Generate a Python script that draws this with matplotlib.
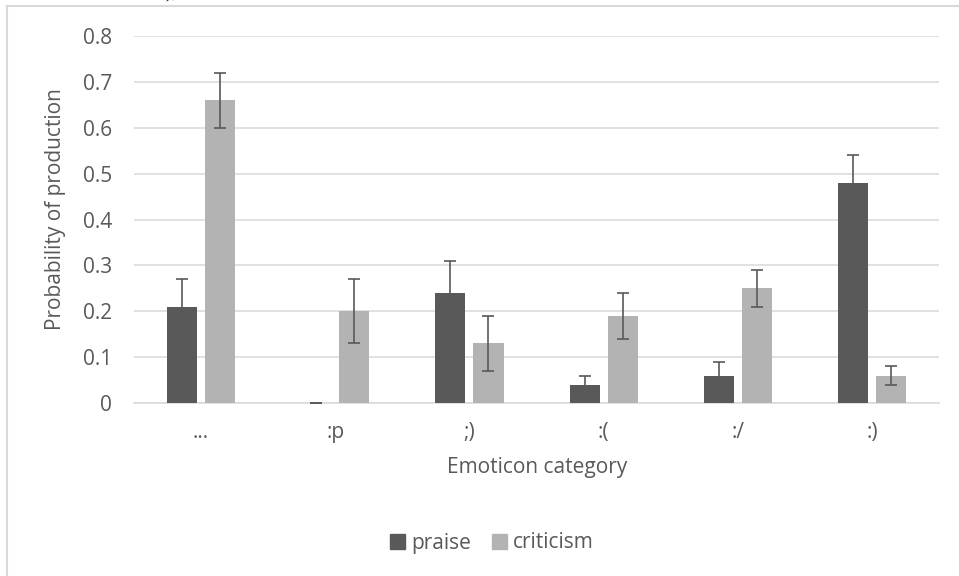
import numpy as np
import matplotlib
matplotlib.use('Agg')
import matplotlib.pyplot as plt
from matplotlib.lines import Line2D
from matplotlib.patches import Patch

plt.rcParams['font.family'] = ['Open Sans', 'DejaVu Sans']

# Data
categories = ['...', ':p', ';)', ':(', ':/', ':)']
praise = [0.21, 0.0, 0.24, 0.04, 0.06, 0.48]
praise_err = [0.06, 0.0, 0.07, 0.02, 0.03, 0.06]
criticism = [0.66, 0.20, 0.13, 0.19, 0.25, 0.06]
criticism_err = [0.06, 0.07, 0.06, 0.05, 0.04, 0.02]

dark = '#595959'
light = '#b3b3b3'
grid = '#d9d9d9'
txt = '#595959'

fig = plt.figure(figsize=(9.59, 5.76), dpi=100)
ax = fig.add_axes([0.1397, 0.3003, 0.8395, 0.6372])

x = np.arange(len(categories))
w = 0.224
off = 0.142
ax.bar(x - off, praise, w, color=dark, zorder=3)
ax.bar(x + off, criticism, w, color=light, zorder=3)
ax.errorbar(x - off, praise, yerr=praise_err, fmt='none', ecolor=dark,
            elinewidth=1.2, capsize=4.5, capthick=1.2, zorder=4)
ax.errorbar(x + off, criticism, yerr=criticism_err, fmt='none', ecolor=dark,
            elinewidth=1.2, capsize=4.5, capthick=1.2, zorder=4)

ax.set_xlim(-0.5, len(categories) - 0.5)
ax.set_ylim(0, 0.8)
yt = np.arange(0, 0.81, 0.1)
ax.set_yticks(yt)
ax.set_yticklabels(['0' if v == 0 else f'{v:.1f}' for v in yt])
ax.set_xticks(x)
ax.set_xticklabels(categories)
ax.tick_params(axis='both', length=0, labelsize=15, colors=txt)
ax.tick_params(axis='y', pad=16)
ax.tick_params(axis='x', pad=14)
ax.yaxis.grid(True, color=grid, lw=1.1, zorder=0)
ax.set_axisbelow(True)
for s in ['top', 'right', 'left']:
    ax.spines[s].set_visible(False)
ax.spines['bottom'].set_color(grid)
ax.spines['bottom'].set_linewidth(1.1)

fig.text(55 / 959, 1 - 209 / 576, 'Probability of production', rotation=90,
         ha='center', va='center', fontsize=15, color=txt)
fig.text(537 / 959, 1 - 468 / 576, 'Emoticon category',
         ha='center', va='center', fontsize=15, color=txt)

handles = [Patch(color=dark, label='praise'), Patch(color=light, label='criticism')]
fig.legend(handles=handles, loc='center', bbox_to_anchor=(492 / 959, 1 - 543 / 576),
           ncol=2, frameon=False, fontsize=15, labelcolor=txt,
           handlelength=0.7, handleheight=0.7, handletextpad=0.3, columnspacing=1.0)

# chart area border (only top and left visible in the crop)
fig.add_artist(Line2D([7 / 959, 7 / 959], [0, 1 - 6 / 576], color=grid, lw=1.5))
fig.add_artist(Line2D([7 / 959, 1], [1 - 6 / 576, 1 - 6 / 576], color=grid, lw=1.5))

# clipped text from the document above the chart
fig.text(172 / 959, 1 + 3 / 576, '),', ha='center', va='baseline',
         fontsize=15, color='black', family='Liberation Serif')

fig.savefig('out.png', dpi=100, facecolor='white')
